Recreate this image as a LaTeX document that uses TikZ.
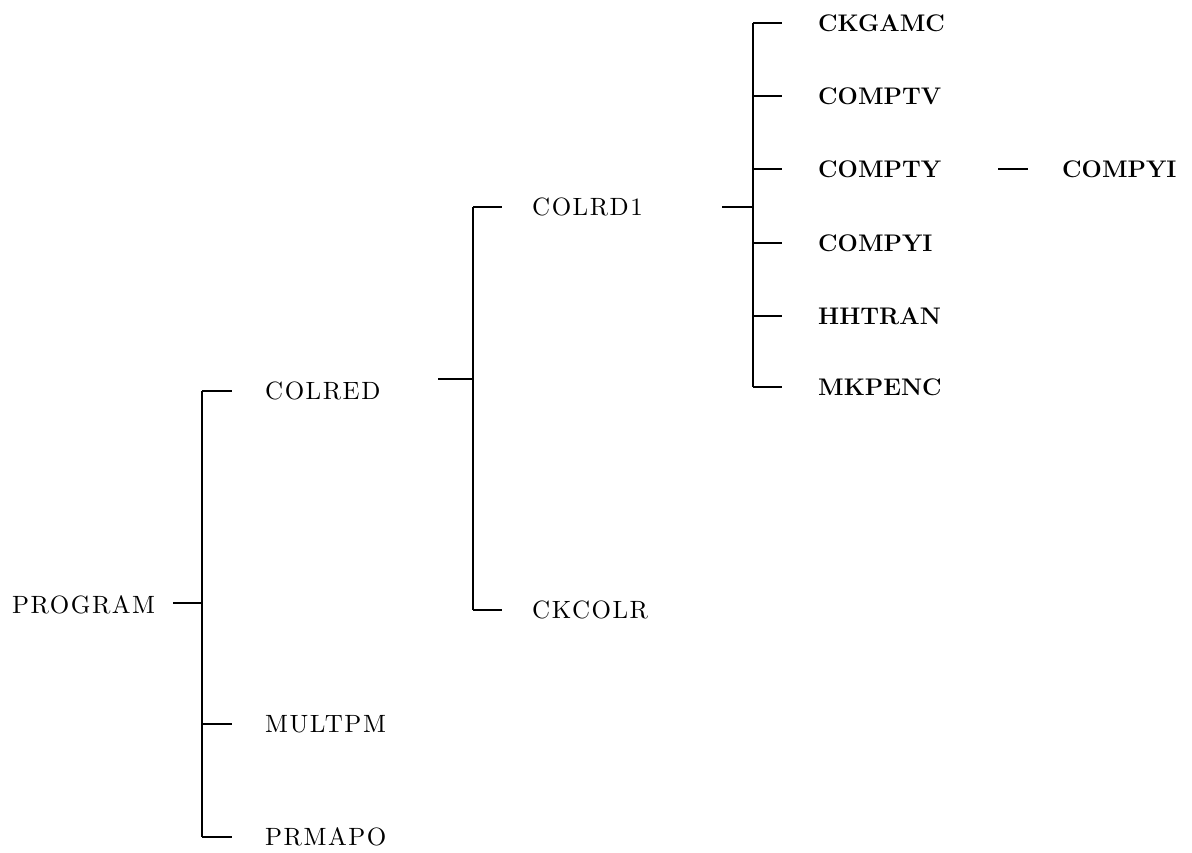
\documentclass[tikz,border=0pt]{standalone}
\usepackage{fontspec}
\newfontfamily\spacedrm{lmroman10-regular}[Extension=.otf,LetterSpace=6]
\begin{document}
\begin{tikzpicture}[x=1pt,y=-1pt,
  lbl/.style={anchor=west,inner sep=0pt,font=\spacedrm\fontsize{25}{30}\selectfont},
  blbl/.style={anchor=west,inner sep=0pt,font=\fontsize{24}{29}\selectfont\bfseries},
  conn/.style={line width=1.1pt}]
\useasboundingbox (0,0) rectangle (1192,852);
% nodes
\node[lbl] (program) at (12,605) {PROGRAM};
\node[lbl] (colred) at (265,391) {COLRED};
\node[lbl] (multpm) at (265,724) {MULTPM};
\node[lbl] (prmapo) at (265,837) {PRMAPO};
\node[lbl] (colrd1) at (532,207) {COLRD1};
\node[lbl] (ckcolr) at (532,610) {CKCOLR};
\node[blbl] (ckgamc) at (818,23) {CKGAMC};
\node[blbl] (comptv) at (818,96) {COMPTV};
\node[blbl] (compty) at (818,169) {COMPTY};
\node[blbl] (compyi) at (818,243) {COMPYI};
\node[blbl] (hhtran) at (818,316) {HHTRAN};
\node[blbl] (mkpenc) at (818,387) {MKPENC};
\node[blbl] (compyib) at (1062,169) {COMPYI};
% bus junctions and stub starts
\coordinate (j1) at (202,603);
\coordinate (s1) at (173,603);
\coordinate (j2) at (473,379);
\coordinate (s2) at (438,379);
\coordinate (j3) at (753,207);
\coordinate (s3) at (722,207);
\coordinate (s4) at (998,169);
% level 1
\draw[conn] (s1) -- (j1);
\draw[conn] (j1 |- colred.west) -- (j1 |- prmapo.west);
\draw[conn] (j1 |- colred.west) -- ([xshift=-33pt]colred.west);
\draw[conn] (j1 |- multpm.west) -- ([xshift=-33pt]multpm.west);
\draw[conn] (j1 |- prmapo.west) -- ([xshift=-33pt]prmapo.west);
% level 2
\draw[conn] (s2) -- (j2);
\draw[conn] (j2 |- colrd1.west) -- (j2 |- ckcolr.west);
\draw[conn] (j2 |- colrd1.west) -- ([xshift=-30pt]colrd1.west);
\draw[conn] (j2 |- ckcolr.west) -- ([xshift=-30pt]ckcolr.west);
% level 3
\draw[conn] (s3) -- (j3);
\draw[conn] (j3 |- ckgamc.west) -- (j3 |- mkpenc.west);
\foreach \n in {ckgamc,comptv,compty,compyi,hhtran,mkpenc}
  \draw[conn] (j3 |- \n.west) -- ([xshift=-36pt]\n.west);
% level 4
\draw[conn] (s4) -- ([xshift=-34pt]compyib.west);
\end{tikzpicture}
\end{document}
